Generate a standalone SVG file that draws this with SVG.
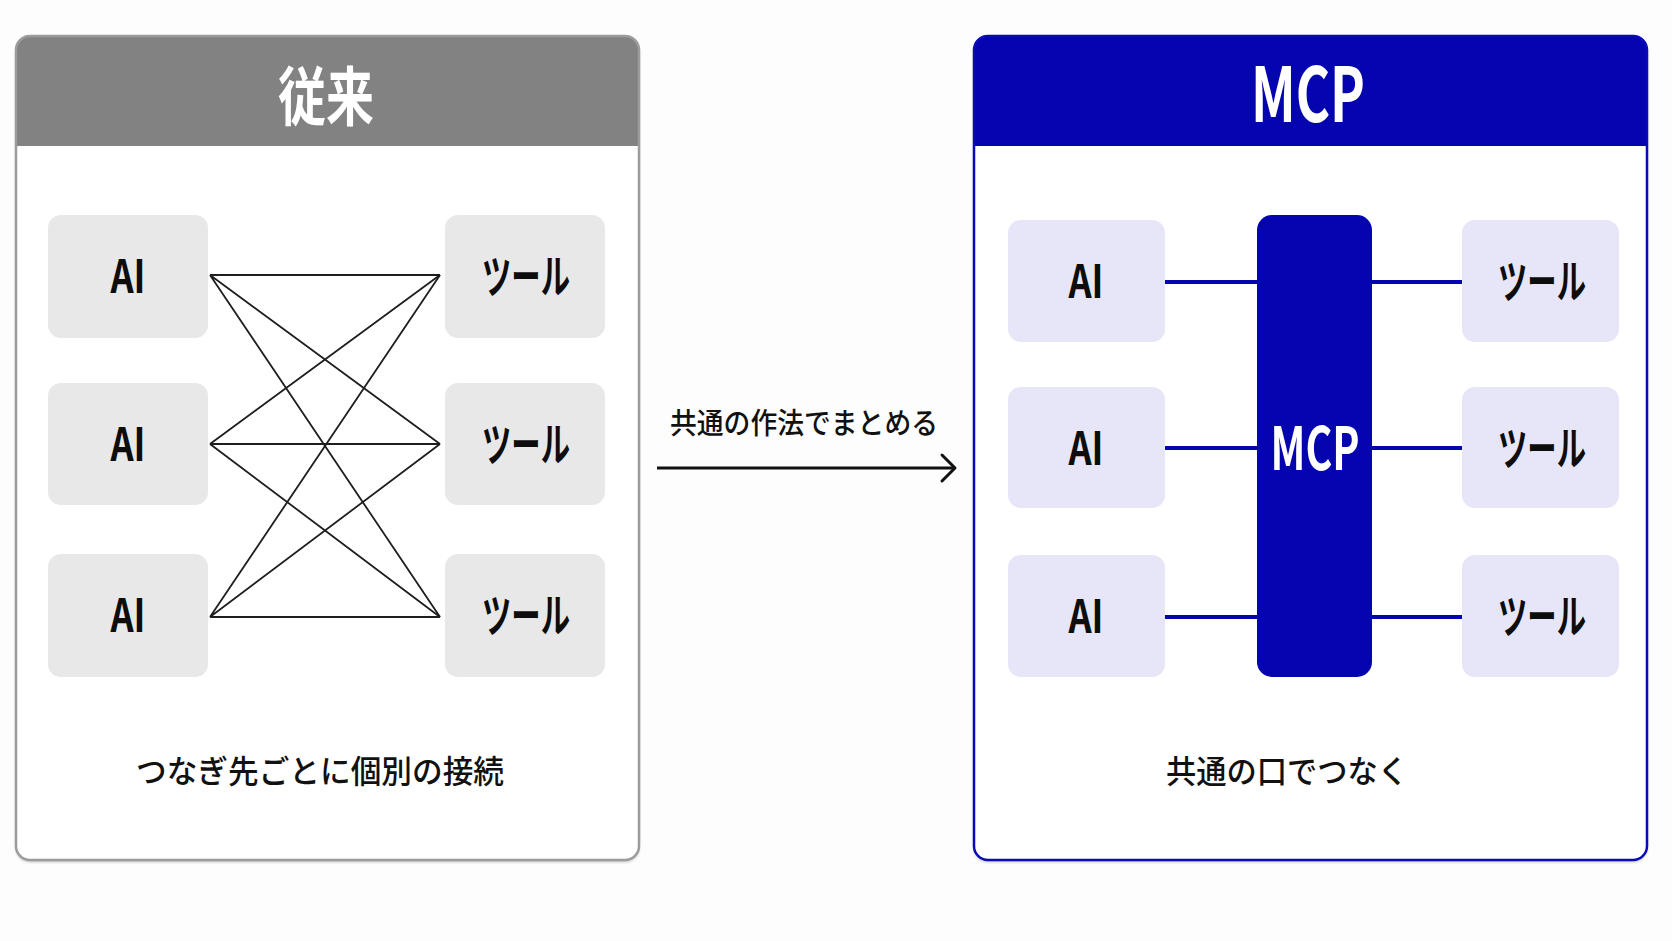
<svg xmlns="http://www.w3.org/2000/svg" width="1672" height="941" viewBox="0 0 1672 941">
<style>
.t{font-family:"Noto Sans CJK JP","Liberation Sans",sans-serif;text-anchor:middle}
.title{fill:#fff;font-weight:700}
.lbl{fill:#0d0d0d;font-weight:700;font-size:46px}
.cap{fill:#111;font-weight:500;font-size:32px}
.gbox{fill:#e8e8e8}
.bbox{fill:#e6e6f8}
.thin{stroke:#1e1e1e;stroke-width:1.8;fill:none}
.blue{stroke:#0505b0;stroke-width:4;fill:none}
</style>
<defs>
<filter id="sh" x="-5%" y="-5%" width="110%" height="110%"><feDropShadow dx="0" dy="2" stdDeviation="1.5" flood-color="#000" flood-opacity="0.25"/></filter>
</defs>
<rect width="1672" height="941" fill="#fdfdfd"/>
<g id="panel-left">
<rect x="16" y="36" width="623" height="824" rx="14" fill="#fff" filter="url(#sh)"/>
<path d="M16,146 V50 Q16,36 30,36 H625 Q639,36 639,50 V146 Z" fill="#828282"/>
<rect x="16" y="36" width="623" height="824" rx="14" fill="none" stroke="#9c9c9c" stroke-width="2.5"/>
<text class="t title" x="326" y="120" font-size="64" textLength="96" lengthAdjust="spacingAndGlyphs">従来</text>
<text class="t cap" x="320" y="783" textLength="368" lengthAdjust="spacingAndGlyphs">つなぎ先ごとに個別の接続</text>
</g>
<g id="panel-right">
<rect x="974" y="36" width="673" height="824" rx="14" fill="#fff" filter="url(#sh)"/>
<path d="M974,146 V50 Q974,36 988,36 H1633 Q1647,36 1647,50 V146 Z" fill="#0505b0"/>
<rect x="974" y="36" width="673" height="824" rx="14" fill="none" stroke="#0a0ab8" stroke-width="2.5"/>
<text class="t title" x="1308" y="122" font-size="75" textLength="114" lengthAdjust="spacingAndGlyphs">MCP</text>
<text class="t cap" x="1287" y="783" textLength="242" lengthAdjust="spacingAndGlyphs">共通の口でつなく</text>
</g>
<g id="connectors">
<g class="thin">
<path d="M210,275 L440,275 M210,275 L440,444 M210,275 L440,617"/>
<path d="M210,444 L440,275 M210,444 L440,444 M210,444 L440,617"/>
<path d="M210,617 L440,275 M210,617 L440,444 M210,617 L440,617"/>
</g>
<g class="blue">
<path d="M1165,282 H1258 M1165,448 H1258 M1165,617 H1258"/>
<path d="M1370,282 H1463 M1370,448 H1463 M1370,617 H1463"/>
</g>
<g id="transition-arrow">
<path d="M657,468 H953" stroke="#111" stroke-width="3" fill="none"/>
<path d="M942,455 L955,468 L942,481" stroke="#111" stroke-width="3" fill="none" stroke-linecap="round" stroke-linejoin="round"/>
<text class="t" x="804" y="434" font-size="29" font-weight="500" fill="#111" textLength="268" lengthAdjust="spacingAndGlyphs">共通の作法でまとめる</text>
</g>
</g>
<g id="left-ai-1"><rect class="gbox" x="48" y="215" width="160" height="123" rx="13"/><text class="t lbl" x="128" y="293" textLength="35" lengthAdjust="spacingAndGlyphs">AI</text></g>
<g id="left-ai-2"><rect class="gbox" x="48" y="383" width="160" height="122" rx="13"/><text class="t lbl" x="128" y="461" textLength="35" lengthAdjust="spacingAndGlyphs">AI</text></g>
<g id="left-ai-3"><rect class="gbox" x="48" y="554" width="160" height="123" rx="13"/><text class="t lbl" x="128" y="632" textLength="35" lengthAdjust="spacingAndGlyphs">AI</text></g>
<g id="left-tool-1"><rect class="gbox" x="445" y="215" width="160" height="123" rx="13"/><text class="t lbl" x="526" y="293" textLength="88" lengthAdjust="spacingAndGlyphs">ツール</text></g>
<g id="left-tool-2"><rect class="gbox" x="445" y="383" width="160" height="122" rx="13"/><text class="t lbl" x="526" y="461" textLength="88" lengthAdjust="spacingAndGlyphs">ツール</text></g>
<g id="left-tool-3"><rect class="gbox" x="445" y="554" width="160" height="123" rx="13"/><text class="t lbl" x="526" y="632" textLength="88" lengthAdjust="spacingAndGlyphs">ツール</text></g>
<g id="right-ai-1"><rect class="bbox" x="1008" y="220" width="157" height="122" rx="13"/><text class="t lbl" x="1086" y="298" textLength="35" lengthAdjust="spacingAndGlyphs">AI</text></g>
<g id="right-ai-2"><rect class="bbox" x="1008" y="387" width="157" height="121" rx="13"/><text class="t lbl" x="1086" y="465" textLength="35" lengthAdjust="spacingAndGlyphs">AI</text></g>
<g id="right-ai-3"><rect class="bbox" x="1008" y="555" width="157" height="122" rx="13"/><text class="t lbl" x="1086" y="633" textLength="35" lengthAdjust="spacingAndGlyphs">AI</text></g>
<g id="mcp-bar"><rect x="1257" y="215" width="115" height="462" rx="15" fill="#0505b0"/><text class="t title" x="1315" y="470" font-size="59" textLength="89" lengthAdjust="spacingAndGlyphs">MCP</text></g>
<g id="right-tool-1"><rect class="bbox" x="1462" y="220" width="157" height="122" rx="13"/><text class="t lbl" x="1542" y="298" textLength="88" lengthAdjust="spacingAndGlyphs">ツール</text></g>
<g id="right-tool-2"><rect class="bbox" x="1462" y="387" width="157" height="121" rx="13"/><text class="t lbl" x="1542" y="465" textLength="88" lengthAdjust="spacingAndGlyphs">ツール</text></g>
<g id="right-tool-3"><rect class="bbox" x="1462" y="555" width="157" height="122" rx="13"/><text class="t lbl" x="1542" y="633" textLength="88" lengthAdjust="spacingAndGlyphs">ツール</text></g>
</svg>
